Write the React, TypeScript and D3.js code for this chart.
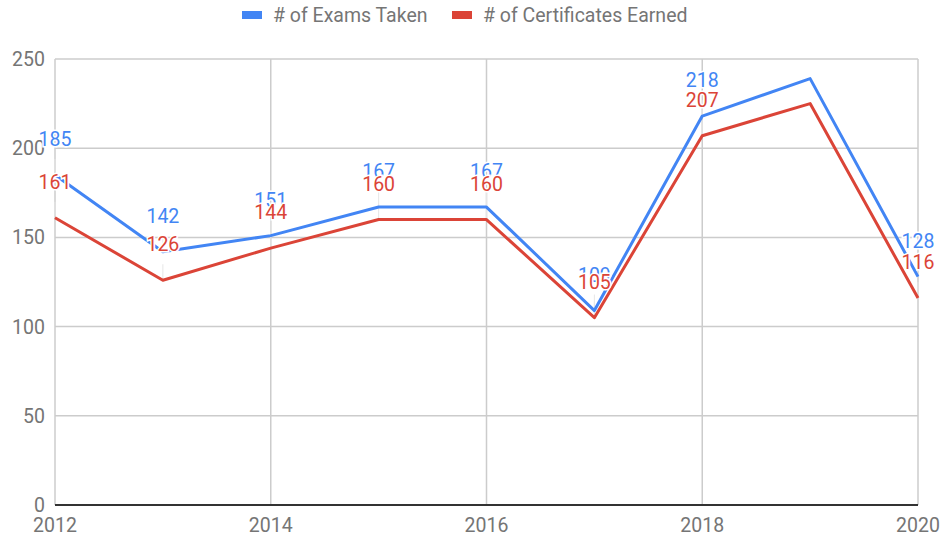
import React, { useRef, useEffect } from 'react';
import * as d3 from 'd3';

const years = [2012, 2013, 2014, 2015, 2016, 2017, 2018, 2019, 2020];
const examsTaken = [185, 142, 151, 167, 167, 109, 218, 239, 128];
const certificatesEarned = [161, 126, 144, 160, 160, 105, 207, 225, 116];
// 2019 has no annotation in the original
const showLabel = [true, true, true, true, true, true, true, false, true];
const yTicks = [0, 50, 100, 150, 200, 250];
const xTicks = [2012, 2014, 2016, 2018, 2020];

const W = 946;
const H = 537;
const FONT = 'Roboto, sans-serif';
const FS = 19.5;

const series = [
  { name: '# of Exams Taken', values: examsTaken, color: '#4285f4' },
  { name: '# of Certificates Earned', values: certificatesEarned, color: '#db4437' },
];

const App: React.FC = () => {
  const svgRef = useRef<SVGSVGElement | null>(null);

  useEffect(() => {
    const svg = d3.select(svgRef.current!);
    svg.selectAll('*').remove();

    const x = d3.scaleLinear().domain([2012, 2020]).range([55, 918]);
    const y = d3.scaleLinear().domain([0, 250]).range([505, 59]);

    // horizontal gridlines
    svg.append('g')
      .selectAll('line')
      .data(yTicks.filter((t) => t > 0))
      .enter()
      .append('line')
      .attr('x1', x(2012))
      .attr('x2', x(2020))
      .attr('y1', (d) => y(d))
      .attr('y2', (d) => y(d))
      .attr('stroke', '#cccccc')
      .attr('stroke-width', 1.5);

    // vertical gridlines
    svg.append('g')
      .selectAll('line')
      .data(xTicks)
      .enter()
      .append('line')
      .attr('x1', (d) => x(d))
      .attr('x2', (d) => x(d))
      .attr('y1', y(250))
      .attr('y2', y(0))
      .attr('stroke', '#cccccc')
      .attr('stroke-width', 1.5);

    // y tick labels
    svg.append('g')
      .selectAll('text')
      .data(yTicks)
      .enter()
      .append('text')
      .attr('x', 45)
      .attr('y', (d) => y(d) + 7)
      .attr('text-anchor', 'end')
      .attr('font-family', FONT)
      .attr('font-size', FS)
      .attr('fill', '#757575')
      .text((d) => d);

    // x tick labels
    svg.append('g')
      .selectAll('text')
      .data(xTicks)
      .enter()
      .append('text')
      .attr('x', (d) => x(d))
      .attr('y', 532)
      .attr('text-anchor', 'middle')
      .attr('font-family', FONT)
      .attr('font-size', FS)
      .attr('fill', '#757575')
      .text((d) => d);

    // baseline
    svg.append('line')
      .attr('x1', x(2012))
      .attr('x2', x(2020))
      .attr('y1', y(0))
      .attr('y2', y(0))
      .attr('stroke', '#333333')
      .attr('stroke-width', 2);

    // annotation stems
    series.forEach((s) => {
      svg.append('g')
        .selectAll('line')
        .data(years.map((yr, i) => ({ yr, v: s.values[i], show: showLabel[i] })).filter((d) => d.show))
        .enter()
        .append('line')
        .attr('x1', (d) => x(d.yr))
        .attr('x2', (d) => x(d.yr))
        .attr('y1', (d) => y(d.v))
        .attr('y2', (d) => y(d.v) - 16)
        .attr('stroke', '#e6e6e6')
        .attr('stroke-width', 1);
    });

    const line = d3.line<number>()
      .x((_, i) => x(years[i]))
      .y((d) => y(d));

    series.forEach((s) => {
      svg.append('path')
        .datum(s.values)
        .attr('d', line)
        .attr('fill', 'none')
        .attr('stroke', s.color)
        .attr('stroke-width', 3)
        .attr('stroke-linejoin', 'round');
    });

    // annotations
    series.forEach((s) => {
      svg.append('g')
        .selectAll('text')
        .data(years.map((yr, i) => ({ yr, v: s.values[i], show: showLabel[i] })).filter((d) => d.show))
        .enter()
        .append('text')
        .attr('x', (d) => x(d.yr))
        .attr('y', (d) => y(d.v) - 29)
        .attr('text-anchor', 'middle')
        .attr('font-family', FONT)
        .attr('font-size', FS)
        .attr('fill', s.color)
        .attr('stroke', '#ffffff')
        .attr('stroke-width', 3)
        .attr('paint-order', 'stroke')
        .text((d) => d.v);
    });

    // legend
    const legendX = [242, 452];
    series.forEach((s, i) => {
      svg.append('rect')
        .attr('x', legendX[i])
        .attr('y', 11)
        .attr('width', 20)
        .attr('height', 8)
        .attr('fill', s.color);
      svg.append('text')
        .attr('x', legendX[i] + 31)
        .attr('y', 22)
        .attr('font-family', FONT)
        .attr('font-size', FS)
        .attr('fill', '#757575')
        .text(s.name);
    });
  }, []);

  return (
    <svg
      ref={svgRef}
      width={W}
      height={H}
      style={{ position: 'absolute', left: 0, top: 0, background: '#fff' }}
    />
  );
};

export default App;
